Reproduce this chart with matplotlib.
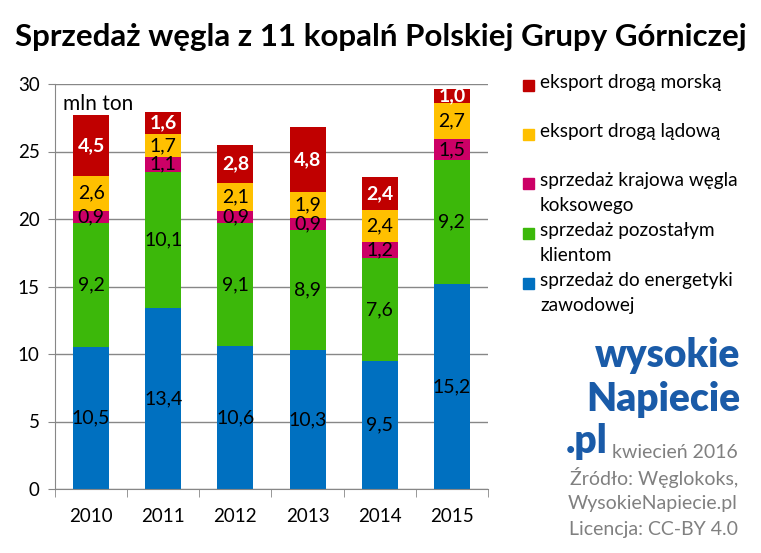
import numpy as np
import matplotlib.pyplot as plt
from matplotlib.patches import Rectangle

years = ['2010', '2011', '2012', '2013', '2014', '2015']
energetyka = [10.5, 13.4, 10.6, 10.3, 9.5, 15.2]
pozostali = [9.2, 10.1, 9.1, 8.9, 7.6, 9.2]
koksowy = [0.9, 1.1, 0.9, 0.9, 1.2, 1.5]
ladowa = [2.6, 1.7, 2.1, 1.9, 2.4, 2.7]
morska = [4.5, 1.6, 2.8, 4.8, 2.4, 1.0]

series = [
    ('sprzedaż do energetyki\nzawodowej', energetyka, '#0070C0', 'black', 'normal'),
    ('sprzedaż pozostałym\nklientom', pozostali, '#3CB80A', 'black', 'normal'),
    ('sprzedaż krajowa węgla\nkoksowego', koksowy, '#CC0066', 'black', 'normal'),
    ('eksport drogą lądową', ladowa, '#FFC000', 'black', 'normal'),
    ('eksport drogą morską', morska, '#C00000', 'white', 'bold'),
]

plt.rcParams['font.family'] = ['Lato', 'DejaVu Sans']

fig = plt.figure(figsize=(7.61, 5.53), dpi=100)
ax = fig.add_axes([55 / 761, 1 - 489 / 553, 433 / 761, 405 / 553])

x = np.arange(len(years))
bottom = np.zeros(len(years))
for name, vals, color, tcol, weight in series:
    vals = np.array(vals)
    ax.bar(x, vals, width=0.5, bottom=bottom, color=color, zorder=2)
    for xi, b, v in zip(x, bottom, vals):
        ax.text(xi, b + v / 2, ('%.1f' % v).replace('.', ','), ha='center', va='center',
                fontsize=14, color=tcol, fontweight=weight, zorder=3)
    bottom += vals

ax.set_xlim(-0.5, len(years) - 0.5)
ax.set_ylim(0, 30)
ax.set_yticks(range(0, 31, 5))
ax.yaxis.grid(True, color='#878787', linewidth=1, zorder=0)
ax.set_axisbelow(True)
for s in ['top', 'right']:
    ax.spines[s].set_visible(False)
for s in ['left', 'bottom']:
    ax.spines[s].set_color('#878787')
ax.tick_params(axis='y', length=5, color='#878787', labelsize=13.5, pad=6)
ax.set_xticks(x)
ax.set_xticklabels(years)
ax.tick_params(axis='x', length=0, labelsize=13.5, pad=14)
ax.set_xticks(np.arange(-0.5, len(years)), minor=True)
ax.tick_params(axis='x', which='minor', length=6, color='#878787')
ax.text(0.018, 0.975, 'mln ton', transform=ax.transAxes, fontsize=15, va='top')

fig.text(0.5, 1 - 37 / 553, 'Sprzedaż węgla z 11 kopalń Polskiej Grupy Górniczej',
         ha='center', va='center', fontsize=22.5, fontweight='bold')

# legend drawn by hand, top entry first
leg_y = [85, 134, 183, 233, 283]
for (name, vals, color, tcol, weight), yy in zip(series[::-1], leg_y):
    fig.patches.append(Rectangle((523 / 761, 1 - (yy + 6) / 553), 11 / 761, 11 / 553,
                                 color=color, transform=fig.transFigure, figure=fig))
    fig.text(540 / 761, 1 - (yy - 11) / 553, name, ha='left', va='top',
             fontsize=13.7, linespacing=1.55)

# logo and source
blue = '#1A5BA8'
fig.text(740 / 761, 1 - 355 / 553, 'wysokie', ha='right', va='center',
         fontsize=28, fontweight='heavy', color=blue)
fig.text(740 / 761, 1 - 400 / 553, 'Napiecie', ha='right', va='center',
         fontsize=28, fontweight='heavy', color=blue)
fig.text(566 / 761, 1 - 442 / 553, '.pl', ha='left', va='center',
         fontsize=28, fontweight='heavy', color=blue)
gray = '#808080'
fig.text(738 / 761, 1 - 453 / 553, 'kwiecień 2016', ha='right', va='center', fontsize=14, color=gray)
fig.text(738 / 761, 1 - 478 / 553, 'Źródło: Węglokoks,', ha='right', va='center', fontsize=14, color=gray)
fig.text(738 / 761, 1 - 504 / 553, 'WysokieNapiecie.pl', ha='right', va='center', fontsize=14, color=gray)
fig.text(738 / 761, 1 - 530 / 553, 'Licencja: CC-BY 4.0', ha='right', va='center', fontsize=14, color=gray)

fig.savefig('out.png', dpi=100)
